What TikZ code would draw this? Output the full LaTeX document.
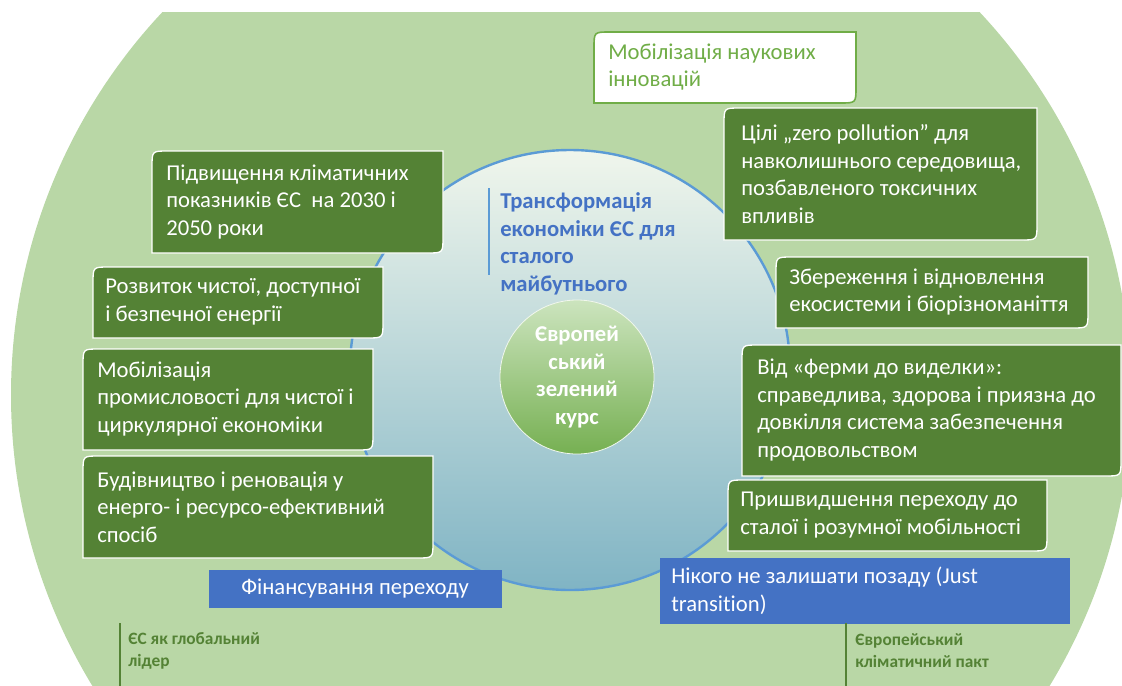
\documentclass[tikz,border=0pt]{standalone}
\usepackage{fontspec}
\setmainfont{Carlito}[Ligatures=NoCommon]
\usepackage{tikz}
\usetikzlibrary{calc}

\definecolor{biggreen}{RGB}{185,215,166}
\definecolor{boxgreen}{RGB}{84,130,53}
\definecolor{lightgreen}{RGB}{112,173,71}
\definecolor{boxblue}{RGB}{68,114,196}
\definecolor{ringblue}{RGB}{91,155,213}
\definecolor{ringtop}{RGB}{240,246,236}
\definecolor{ringmid}{RGB}{205,227,194}
\definecolor{ringbot}{RGB}{128,180,196}
\definecolor{coretop}{RGB}{204,228,190}
\definecolor{corebot}{RGB}{118,176,82}

\begin{document}
\begin{tikzpicture}[x=0.75pt,y=-0.75pt,
    gtext/.style={inner sep=0pt, align=left, text=white, font=\fontsize{17}{20.6}\selectfont},
    wtext/.style={gtext, text=lightgreen},
    sidetext/.style={inner sep=0pt, align=left, text=boxgreen, font=\fontsize{13}{16.5}\selectfont\bfseries},
    gbox/.style={fill=boxgreen, draw=white, line width=1pt},
    wbox/.style={fill=white, draw=lightgreen, line width=1.2pt}]
\useasboundingbox (0,0) rectangle (1122,686);

\newcommand{\diagshape}[5]{
    \filldraw[#1] (#4,#3) -- ({#2+16},#3) .. controls (#2,#3) .. (#2,{#3+16})
        -- (#2,#5) -- ({#4-16},#5) .. controls (#4,#5) .. (#4,{#5-16}) -- cycle;
}

\newcommand{\sidelabel}[4]{
    \draw[boxgreen, line width=1pt] (#2,623) -- (#2,686);
    \node[sidetext, anchor=west] (#1) at (#3,651) {#4};
}

% outer disc
\begin{scope}
\clip (0,12) rectangle (1122,686);
\fill[biggreen] (571,395) circle (560);
\end{scope}

% inner ring and core
\shade[top color=ringtop, middle color=ringmid, bottom color=ringbot] (570,370) circle (220);
\draw[ringblue, line width=1.8pt] (570,370) circle (220);
\shade[top color=coretop, bottom color=corebot, draw=white!80!biggreen, line width=0.6pt] (577,377) circle (77);
\node[gtext, align=center, font=\fontsize{17}{20.6}\selectfont\bfseries] (core) at (577,377)
    {Європей\\ський\\зелений\\курс};

% title
\draw[ringblue, line width=1.6pt] (489,188) -- (489,275);
\node[gtext, text=boxblue, font=\fontsize{17}{20.6}\selectfont\bfseries, anchor=west] (title) at (500,244)
    {Трансформація\\економіки ЄС для\\сталого\\майбутнього};

% left boxes
\diagshape{gbox}{152}{151}{443}{253}
\node[gtext, anchor=west] (climate) at (166,202) {Підвищення кліматичних\\показників ЄС\ \ на 2030 і\\2050 роки};
\diagshape{gbox}{93}{267}{383}{338}
\node[gtext, anchor=west] (energy) at (105,302) {Розвиток чистої, доступної\\і безпечної енергії};
\diagshape{gbox}{83}{349}{373}{450}
\node[gtext, anchor=west] (industry) at (97,399) {Мобілізація\\промисловості для чистої і\\циркулярної економіки};
\diagshape{gbox}{83}{456}{433}{558}
\node[gtext, anchor=west] (building) at (97,507) {Будівництво і реновація у\\енерго- і ресурсо-ефективний\\спосіб};

% right boxes
\diagshape{wbox}{594}{32}{856}{103}
\node[wtext, anchor=west] (research) at (608,67) {Мобілізація наукових\\інновацій};
\diagshape{gbox}{724}{108}{1037}{240}
\node[gtext, anchor=west] (pollution) at (741,174) {Цілі „zero pollution” для\\навколишнього середовища,\\позбавленого токсичних\\впливів};
\diagshape{gbox}{776}{257}{1088}{328}
\node[gtext, anchor=west] (nature) at (789,292) {Збереження і відновлення\\екосистеми і біорізноманіття};
\diagshape{gbox}{742}{345}{1121}{476}
\node[gtext, anchor=west] (farm) at (757,410) {Від «ферми до виделки»:\\справедлива, здорова і приязна до\\довкілля система забезпечення\\продовольством};
\diagshape{gbox}{728}{480}{1047}{551}
\node[gtext, anchor=west] (mobility) at (740,515) {Пришвидшення переходу до\\сталої і розумної мобільності};

% blue bars
\fill[boxblue] (209,570) rectangle (502,608);
\node[gtext] (finance) at (355,589) {Фінансування переходу};
\fill[boxblue] (660,558) rectangle (1070,624);
\node[gtext, anchor=west] (justice) at (671,591) {Нікого не залишати позаду (Just\\transition)};

% side labels
\sidelabel{leader}{120}{128}{ЄС як глобальний\\лідер}
\sidelabel{pact}{846}{855}{Європейський\\кліматичний пакт}
\end{tikzpicture}
\end{document}
